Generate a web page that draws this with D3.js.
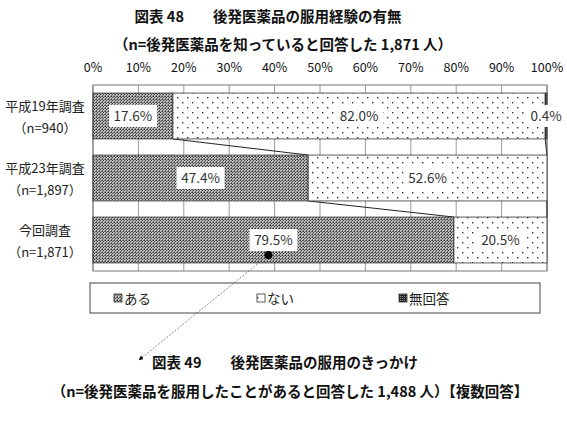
<!DOCTYPE html>
<html>
<head>
    <meta charset="utf-8">
    <script src="https://d3js.org/d3.v7.min.js"></script>
    <style>
        body {margin: 0; background: #fff; font-family: "Noto Sans CJK JP", "Noto Sans", sans-serif;}
        svg {display: block;}
        .grid line { stroke: #9a9a9a; stroke-width: 1px; }
        .bar { stroke: #333; stroke-width: 0.8px; }
        .sline { stroke: #222; stroke-width: 1px; }
    </style>
</head>
<body>
    <svg width="567" height="421"></svg>
    <script>
        // data
        let categories = ["平成19年調査", "平成23年調査", "今回調査"];
        let nLabels = ["（n=940）", "（n=1,897）", "（n=1,871）"];
        let seriesNames = ["ある", "ない", "無回答"];
        let aru = [17.6, 47.4, 79.5];
        let nai = [82.0, 52.6, 20.5];
        let mukaito = [0.4, 0.0, 0.0];
        let ticks = [0, 10, 20, 30, 40, 50, 60, 70, 80, 90, 100];

        let svg = d3.select("svg");
        let defs = svg.append("defs");

        // dense checker pattern
        let pDense = defs.append("pattern").attr("id", "dense")
            .attr("patternUnits", "userSpaceOnUse").attr("width", 3).attr("height", 3);
        pDense.append("rect").attr("width", 3).attr("height", 3).attr("fill", "#bdbdbd");
        pDense.append("rect").attr("width", 1).attr("height", 1).attr("fill", "#3a3a3a");
        pDense.append("rect").attr("x", 1).attr("y", 1).attr("width", 1).attr("height", 1).attr("fill", "#3a3a3a");
        pDense.append("rect").attr("x", 2).attr("y", 0).attr("width", 1).attr("height", 1).attr("fill", "#666");
        pDense.append("rect").attr("x", 0).attr("y", 2).attr("width", 1).attr("height", 1).attr("fill", "#666");

        // sparse dots
        let pDots = defs.append("pattern").attr("id", "dots")
            .attr("patternUnits", "userSpaceOnUse").attr("width", 10).attr("height", 10);
        pDots.append("rect").attr("width", 10).attr("height", 10).attr("fill", "#fff");
        pDots.append("rect").attr("x", 2).attr("y", 2).attr("width", 1.4).attr("height", 1.4).attr("fill", "#333");
        pDots.append("rect").attr("x", 7).attr("y", 7).attr("width", 1.4).attr("height", 1.4).attr("fill", "#333");

        // dark (no answer)
        let pDark = defs.append("pattern").attr("id", "dark")
            .attr("patternUnits", "userSpaceOnUse").attr("width", 2).attr("height", 2);
        pDark.append("rect").attr("width", 2).attr("height", 2).attr("fill", "#222");
        pDark.append("rect").attr("width", 1).attr("height", 1).attr("fill", "#999");

        let fills = ["url(#dense)", "url(#dots)", "url(#dark)"];

        let x = d3.scaleLinear().domain([0, 100]).range([93, 547]);
        let y = d3.scaleBand().domain(categories).range([85, 271]).paddingInner(0.26).paddingOuter(0.13);

        // titles
        svg.append("text").attr("x", 268).attr("y", 22).attr("text-anchor", "middle")
            .attr("font-size", 14.5).attr("font-weight", "bold").attr("fill", "#111")
            .text("図表 48　　後発医薬品の服用経験の有無");
        svg.append("text").attr("x", 283).attr("y", 50).attr("text-anchor", "middle")
            .attr("font-size", 14.5).attr("font-weight", "bold").attr("fill", "#111")
            .text("（n=後発医薬品を知っていると回答した 1,871 人）");

        // tick labels on top
        svg.append("g").selectAll("text").data(ticks).enter().append("text")
            .attr("x", d => x(d)).attr("y", 71.5).attr("text-anchor", "middle")
            .attr("font-size", 12.5).attr("fill", "#111")
            .text(d => d + "%");

        // grid
        svg.append("g").attr("class", "grid").selectAll("line").data(ticks).enter().append("line")
            .attr("x1", d => x(d)).attr("x2", d => x(d)).attr("y1", 85).attr("y2", 271);
        svg.append("rect").attr("x", 93).attr("y", 85).attr("width", 454).attr("height", 186)
            .attr("fill", "none").attr("stroke", "#777");

        // stacked rows
        let rows = categories.map((c, i) => {
            let vals = [aru[i], nai[i], mukaito[i]];
            let acc = 0;
            return vals.map((v, k) => { let s = acc; acc += v; return {cat: c, k: k, v: v, x0: s, x1: acc}; });
        });

        // series lines between bars
        let sl = svg.append("g");
        for (let i = 0; i < rows.length - 1; i++) {
            [0, 1].forEach(k => {
                sl.append("line").attr("class", "sline")
                    .attr("x1", x(rows[i][k].x1)).attr("y1", y(categories[i]) + y.bandwidth())
                    .attr("x2", x(rows[i + 1][k].x1)).attr("y2", y(categories[i + 1]));
            });
        }

        let segs = rows.flat().filter(d => d.v > 0);
        svg.append("g").selectAll("rect").data(segs).enter().append("rect")
            .attr("class", "bar")
            .attr("x", d => x(d.x0)).attr("y", d => y(d.cat))
            .attr("width", d => x(d.x1) - x(d.x0)).attr("height", y.bandwidth())
            .attr("fill", d => fills[d.k]);

        // data labels with white boxes
        let lab = svg.append("g");
        segs.forEach(d => {
            let cx = x((d.x0 + d.x1) / 2);
            let cy = y(d.cat) + y.bandwidth() / 2;
            let t = d.v.toFixed(1) + "%";
            let w = t.length * 8 + 8;
            lab.append("rect").attr("x", cx - w / 2).attr("y", cy - 11).attr("width", w).attr("height", 22)
                .attr("fill", "#fff");
            lab.append("text").attr("x", cx).attr("y", cy + 5).attr("text-anchor", "middle")
                .attr("font-size", 13.5).attr("fill", "#333").text(t);
        });

        // category labels
        let cl = svg.append("g");
        categories.forEach((c, i) => {
            let cy = y(c) + y.bandwidth() / 2;
            cl.append("text").attr("x", 45).attr("y", cy - 5).attr("text-anchor", "middle")
                .attr("font-size", 13).attr("fill", "#222").text(c);
            cl.append("text").attr("x", 45).attr("y", cy + 17).attr("text-anchor", "middle")
                .attr("font-size", 13).attr("fill", "#222").text(nLabels[i]);
        });

        // legend
        svg.append("rect").attr("x", 90).attr("y", 283).attr("width", 450).attr("height", 30)
            .attr("fill", "#fff").attr("stroke", "#444");
        let legX = [114, 257, 399];
        seriesNames.forEach((s, k) => {
            svg.append("rect").attr("x", legX[k]).attr("y", 294).attr("width", 8).attr("height", 8)
                .attr("fill", fills[k]).attr("stroke", "#333").attr("stroke-width", 0.8);
            svg.append("text").attr("x", legX[k] + 10).attr("y", 303.5)
                .attr("font-size", 13.5).attr("fill", "#222").text(s);
        });

        // arrow from label to next figure
        defs.append("marker").attr("id", "arr").attr("viewBox", "0 0 10 10")
            .attr("refX", 9).attr("refY", 5).attr("markerWidth", 7).attr("markerHeight", 7)
            .attr("orient", "auto")
            .append("path").attr("d", "M0,0 L10,5 L0,10 z").attr("fill", "#111");
        let dx = x(aru[2] / 2) - 5, dy = 255;
        svg.append("line").attr("x1", dx).attr("y1", dy).attr("x2", 139).attr("y2", 360)
            .attr("stroke", "#555").attr("stroke-width", 0.7).attr("stroke-dasharray", "2,1.5")
            .attr("marker-end", "url(#arr)");
        svg.append("circle").attr("cx", dx).attr("cy", dy).attr("r", 4).attr("fill", "#000");

        svg.append("text").attr("x", 285).attr("y", 368).attr("text-anchor", "middle")
            .attr("font-size", 14.5).attr("font-weight", "bold").attr("fill", "#111")
            .text("図表 49　　後発医薬品の服用のきっかけ");
        svg.append("text").attr("x", 290).attr("y", 397).attr("text-anchor", "middle")
            .attr("font-size", 14.5).attr("font-weight", "bold").attr("fill", "#111")
            .text("（n=後発医薬品を服用したことがあると回答した 1,488 人）【複数回答】");
    </script>
</body>
</html>
